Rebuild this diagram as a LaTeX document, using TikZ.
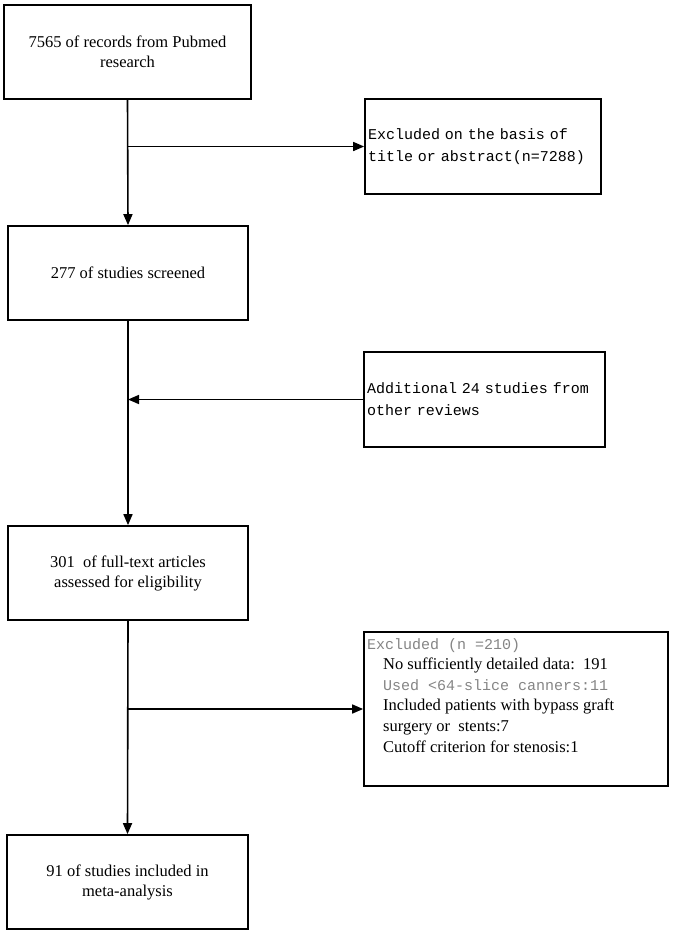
\documentclass[tikz,border=0pt]{standalone}
\usepackage{fontspec}
\setmainfont{Liberation Serif}
\newfontfamily\monof{Liberation Mono}
\usetikzlibrary{arrows.meta}
\definecolor{graytxt}{HTML}{858585}
\tikzset{
  box/.style={draw=black, line width=1.7pt, inner sep=0pt, align=center,
    font=\fontsize{16.5}{20}\selectfont},
  sidebox/.style={draw=black, line width=1.7pt, inner xsep=3pt, inner ysep=0pt,
    align=left, font=\monof\fontsize{15}{22}\selectfont},
  arr/.style={line width=1.6pt, -{Triangle[length=11pt,width=9pt]}}
}
\begin{document}
\begin{tikzpicture}[x=1pt,y=-1pt]
\fill[white] (0,0) rectangle (673,935);
\useasboundingbox (0,0) rectangle (673,935);
\node[box, minimum width=247pt, minimum height=94pt] (b1) at (127.5,52) {7565 of records from Pubmed\\research};
\node[sidebox, minimum width=236pt, minimum height=95pt, text width=230pt] (b2) at (483,146.5) {Excluded on the basis of\\title or abstract(n=7288)};
\node[box, minimum width=240pt, minimum height=94pt] (b3) at (128,273) {277 of studies screened};
\node[sidebox, minimum width=241pt, minimum height=95pt, text width=235pt] (b4) at (484.5,399.5) {Additional 24 studies from\\other reviews};
\node[box, minimum width=240pt, minimum height=94pt] (b5) at (128,573) {301\ \ of full-text articles\\assessed for eligibility};
\node[draw=black, line width=1.7pt, minimum width=304pt, minimum height=154pt, inner sep=0pt] (b6) at (516,709) {};
\node[anchor=north west, inner sep=0pt, align=left, font=\fontsize{16.5}{20.6}\selectfont] (b6t) at (367,638) {%
{\monof\fontsize{15}{20.6}\selectfont\color{graytxt}Excluded (n =210)}\\
\hspace*{16pt}No sufficiently detailed data:\ \ 191\\
\hspace*{16pt}{\monof\fontsize{15}{20.6}\selectfont\color{graytxt}Used <64-slice canners:11}\\
\hspace*{16pt}Included patients with bypass graft\\
\hspace*{16pt}surgery or\ \ stents:7\\
\hspace*{16pt}Cutoff criterion for stenosis:1};
\node[box, minimum width=241pt, minimum height=94pt] (b7) at (127.5,882) {91 of studies included in\\meta-analysis};
\coordinate (j1) at (b1.south |- b2.west);
\coordinate (j2) at (b3.south |- b4.west);
\coordinate (j3) at (b5.south |- b6.west);
\draw[arr] (b1.south) -- (b3.north);
\draw[arr] (j1) -- (b2.west);
\draw[arr] (b3.south) -- (b5.north);
\draw[arr] (b4.west) -- (j2);
\draw[arr] (b5.south) -- (b7.north);
\draw[arr] (j3) -- (b6.west);
\end{tikzpicture}
\end{document}
